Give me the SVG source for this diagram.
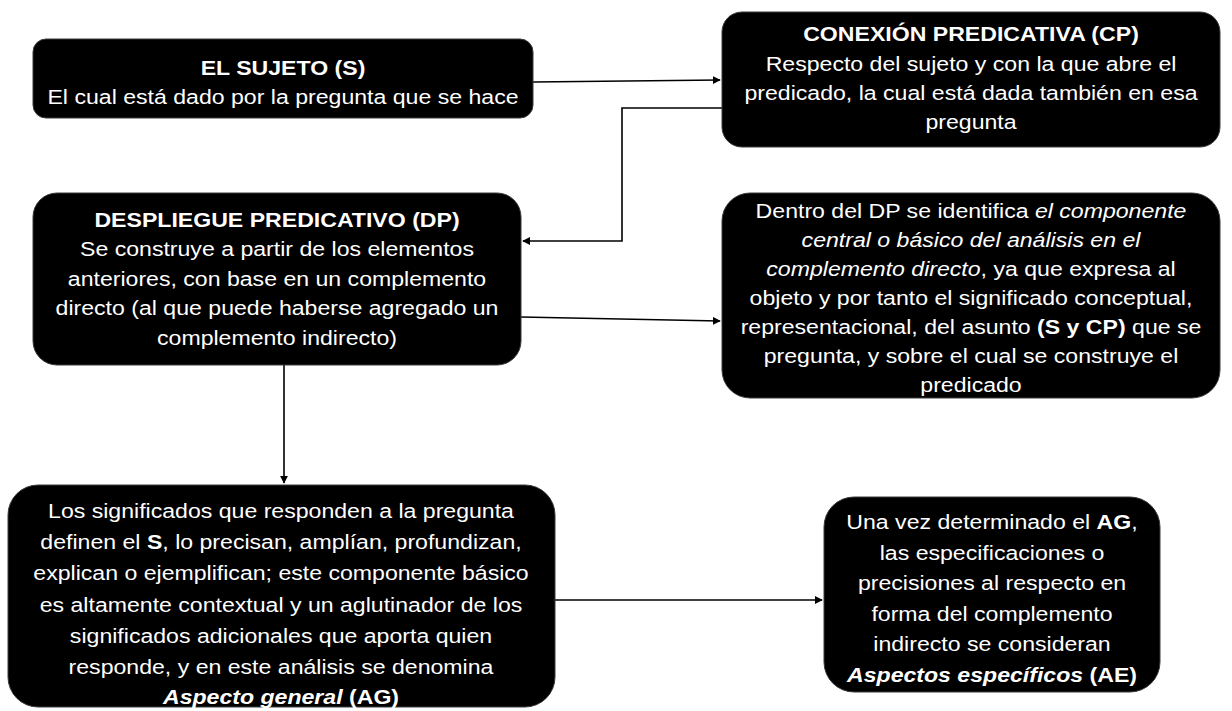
<svg xmlns="http://www.w3.org/2000/svg" width="1232" height="711" viewBox="0 0 1232 711">
<style>
.box{fill:#000;stroke:#3a3a3a;stroke-width:1}
.t{font-family:"Liberation Sans",Arial,sans-serif;font-size:21px;fill:#fff;text-anchor:middle}
.b{font-weight:bold}
.i{font-style:italic}
.c{fill:none;stroke:#000;stroke-width:1.6;marker-end:url(#ah)}
</style>
<defs>
<marker id="ah" viewBox="0 0 10 10" refX="9" refY="5" markerWidth="8" markerHeight="8" markerUnits="userSpaceOnUse" orient="auto">
<path d="M0,0 L10,5 L0,10 z" fill="#000"/>
</marker>
</defs>
<rect width="1232" height="711" fill="#fff"/>
<g id="connectors">
<path class="c" d="M533,82 L720,80"/>
<path class="c" d="M722,108 L622,108 L622,241 L523,241"/>
<path class="c" d="M521,317 L720,321"/>
<path class="c" d="M284,365 L284,483"/>
<path class="c" d="M555,600 L822,600"/>
</g>
<g id="sujeto">
<rect class="box" x="33" y="39" width="500" height="79" rx="13"/>
<g transform="translate(283,0) scale(1.1,1)">
<text class="t"><tspan class="b" x="0" y="75">EL SUJETO (S)</tspan><tspan x="0" y="104">El cual está dado por la pregunta que se hace</tspan></text>
</g>
</g>
<g id="conexion">
<rect class="box" x="722" y="12" width="498" height="135" rx="20"/>
<g transform="translate(971,0) scale(1.1,1)">
<text class="t"><tspan class="b" x="0" y="41">CONEXIÓN PREDICATIVA (CP)</tspan><tspan x="0" y="71">Respecto del sujeto y con la que abre el</tspan><tspan x="0" y="100">predicado, la cual está dada también en esa</tspan><tspan x="0" y="129">pregunta</tspan></text>
</g>
</g>
<g id="despliegue">
<rect class="box" x="33" y="193" width="488" height="172" rx="24"/>
<g transform="translate(277,0) scale(1.1,1)">
<text class="t"><tspan class="b" x="0" y="227">DESPLIEGUE PREDICATIVO (DP)</tspan><tspan x="0" y="256">Se construye a partir de los elementos</tspan><tspan x="0" y="286">anteriores, con base en un complemento</tspan><tspan x="0" y="315">directo (al que puede haberse agregado un</tspan><tspan x="0" y="345">complemento indirecto)</tspan></text>
</g>
</g>
<g id="dentro">
<rect class="box" x="722" y="193" width="498" height="205" rx="28"/>
<g transform="translate(971,0) scale(1.1,1)">
<text class="t"><tspan x="0" y="218">Dentro del DP se identifica <tspan class="i">el componente</tspan></tspan><tspan class="i" x="0" y="247">central o básico del análisis en el</tspan><tspan x="0" y="276"><tspan class="i">complemento directo</tspan>, ya que expresa al</tspan><tspan x="0" y="305">objeto y por tanto el significado conceptual,</tspan><tspan x="0" y="334">representacional, del asunto <tspan class="b">(S y CP)</tspan> que se</tspan><tspan x="0" y="363">pregunta, y sobre el cual se construye el</tspan><tspan x="0" y="392">predicado</tspan></text>
</g>
</g>
<g id="significados">
<rect class="box" x="8" y="485" width="547" height="222" rx="30"/>
<g transform="translate(281,0) scale(1.1,1)">
<text class="t"><tspan x="0" y="518">Los significados que responden a la pregunta</tspan><tspan x="0" y="549">definen el <tspan class="b">S</tspan>, lo precisan, amplían, profundizan,</tspan><tspan x="0" y="580">explican o ejemplifican; este componente básico</tspan><tspan x="0" y="612">es altamente contextual y un aglutinador de los</tspan><tspan x="0" y="643">significados adicionales que aporta quien</tspan><tspan x="0" y="674">responde, y en este análisis se denomina</tspan><tspan x="0" y="704"><tspan class="b i">Aspecto general</tspan> <tspan class="b">(AG)</tspan></tspan></text>
</g>
</g>
<g id="especificos">
<rect class="box" x="824" y="497" width="336" height="195" rx="30"/>
<g transform="translate(992,0) scale(1.1,1)">
<text class="t"><tspan x="0" y="529">Una vez determinado el <tspan class="b">AG</tspan>,</tspan><tspan x="0" y="560">las especificaciones o</tspan><tspan x="0" y="590">precisiones al respecto en</tspan><tspan x="0" y="621">forma del complemento</tspan><tspan x="0" y="651">indirecto se consideran</tspan><tspan x="0" y="682"><tspan class="b i">Aspectos específicos</tspan> <tspan class="b">(AE)</tspan></tspan></text>
</g>
</g>
</svg>
